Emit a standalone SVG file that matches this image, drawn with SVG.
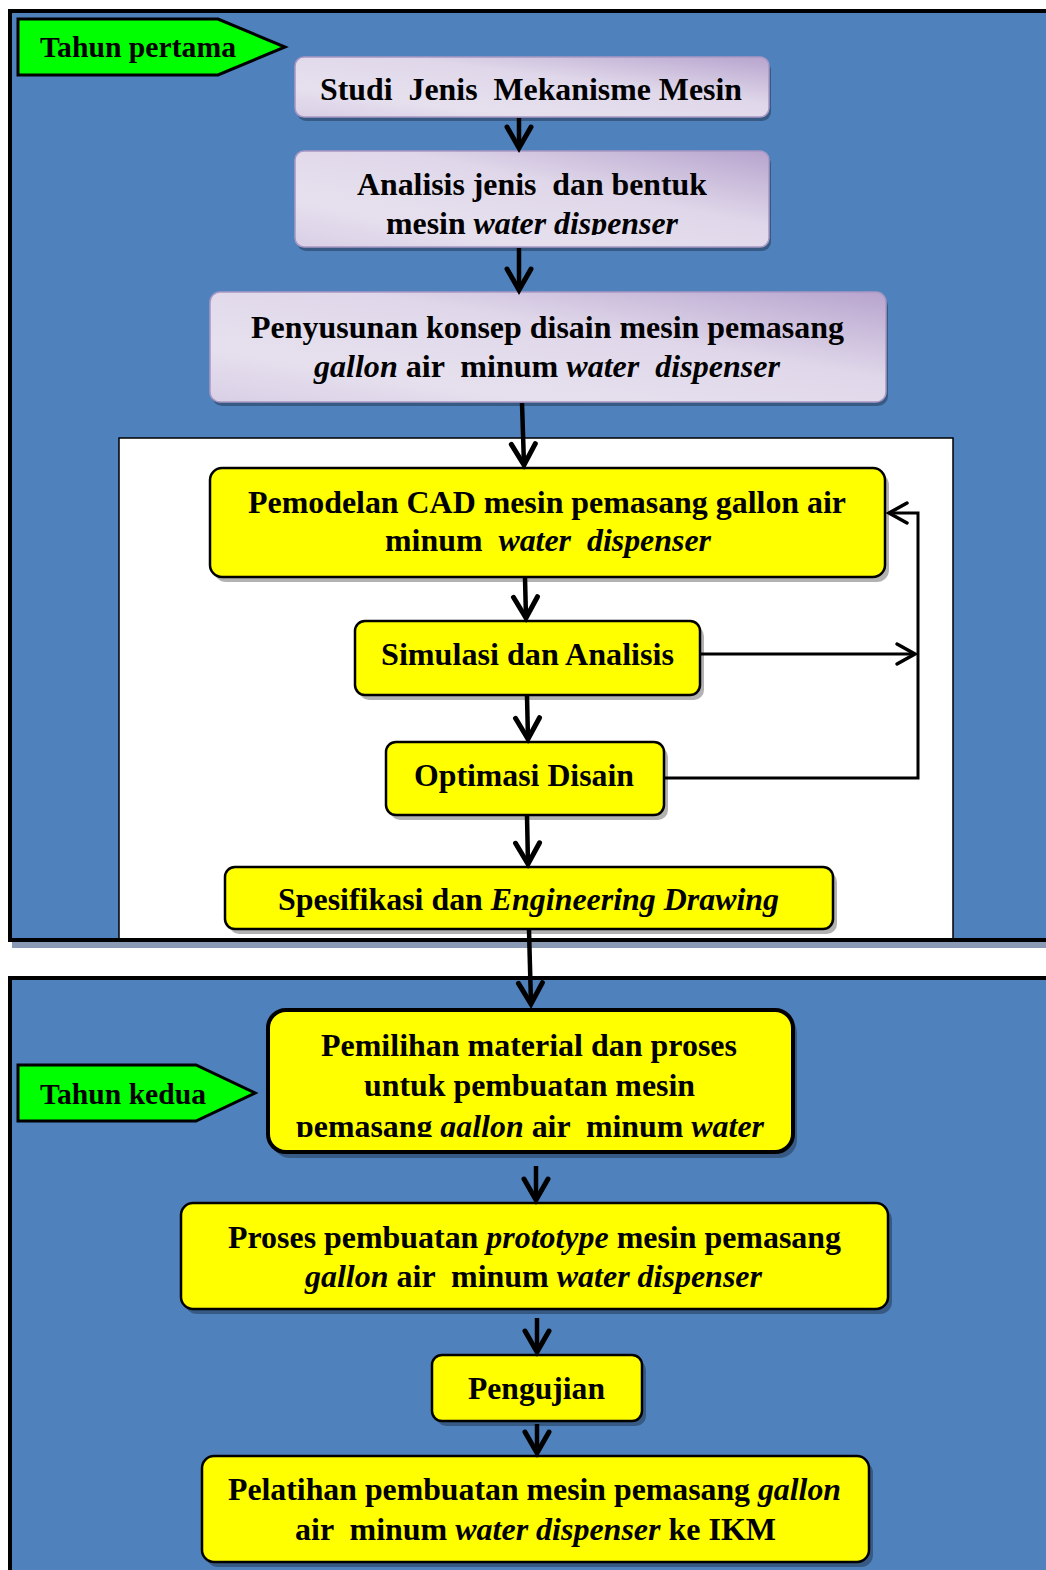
<svg xmlns="http://www.w3.org/2000/svg" width="1046" height="1570" viewBox="0 0 1046 1570">
<style>
.t{font-family:"Liberation Serif","Times New Roman",serif;font-weight:bold;font-size:31px;fill:#000}
.lab{font-size:29px}
.i{font-style:italic}
.lav{fill:url(#lavg);stroke:#A898C4;stroke-width:1.5}
.yel{fill:#FFFF00;stroke:#000;stroke-width:2.5}
.shd{fill:#000;fill-opacity:0.3}
.grn{fill:#00FF00;stroke:#000;stroke-width:3}
.ar{stroke:#000;stroke-width:4.5;fill:none;marker-end:url(#ah)}
.fb{stroke:#000;stroke-width:3;fill:none}
</style>
<defs>
<linearGradient id="lavg" x1="0" y1="1" x2="1" y2="0">
<stop offset="0" stop-color="#D9CFE6"/>
<stop offset="0.25" stop-color="#E6E0EE"/>
<stop offset="0.6" stop-color="#E0D8EA"/>
<stop offset="1" stop-color="#B7A4CE"/>
</linearGradient>
<marker id="ah" markerUnits="userSpaceOnUse" markerWidth="40" markerHeight="40" refX="0" refY="0" orient="auto" overflow="visible">
<path d="M-21,-12 L0,0 L-21,12" fill="none" stroke="#000" stroke-width="5" stroke-linecap="round" stroke-linejoin="miter"/>
</marker>
<marker id="ah2" markerUnits="userSpaceOnUse" markerWidth="30" markerHeight="30" refX="0" refY="0" orient="auto" overflow="visible">
<path d="M-18,-10 L0,0 L-18,10" fill="none" stroke="#000" stroke-width="3.5" stroke-linecap="round"/>
</marker>
<clipPath id="c1"><rect x="295" y="150" width="475" height="85"/></clipPath>
<clipPath id="c2"><rect x="267" y="1009" width="525" height="128"/></clipPath>
</defs>

<rect x="0" y="0" width="1046" height="1570" fill="#FFFFFF"/>

<g id="panel-year1">
<rect x="12" y="14" width="1050" height="934" fill="#8A9AB4"/>
<rect x="10" y="11" width="1050" height="929" fill="#4F81BD" stroke="#000" stroke-width="4"/>
<rect x="119" y="438" width="834" height="502" fill="#FFFFFF" stroke="#000" stroke-width="1.5"/>
<line x1="8" y1="940" x2="1046" y2="940" stroke="#000" stroke-width="4"/>
</g>
<g id="panel-year2">
<rect x="10" y="978" width="1050" height="600" fill="#4F81BD" stroke="#000" stroke-width="4"/>
</g>

<g id="label-tahun-pertama">
<polygon class="grn" points="18,19 218,19 285,47 218,75 18,75"/>
<text class="t lab" x="40" y="57" textLength="196" lengthAdjust="spacingAndGlyphs">Tahun pertama</text>
</g>

<g id="n1">
<rect class="shd" x="297" y="61" width="474" height="60" rx="9"/>
<rect class="lav" x="295" y="57" width="474" height="60" rx="9"/>
<text class="t" x="320" y="100" textLength="422" lengthAdjust="spacingAndGlyphs" xml:space="preserve">Studi  Jenis  Mekanisme Mesin</text>
</g>

<g id="n2">
<rect class="shd" x="297" y="155" width="474" height="96" rx="9"/>
<rect class="lav" x="295" y="151" width="474" height="96" rx="9"/>
<text class="t" x="357" y="195" textLength="350" lengthAdjust="spacingAndGlyphs" xml:space="preserve">Analisis jenis  dan bentuk</text>
<g clip-path="url(#c1)">
<text class="t" x="386" y="234" textLength="292" lengthAdjust="spacingAndGlyphs">mesin <tspan class="i">water dispenser</tspan></text>
</g>
</g>

<g id="n3">
<rect class="shd" x="212" y="296" width="676" height="110" rx="10"/>
<rect class="lav" x="210" y="292" width="676" height="110" rx="10"/>
<text class="t" x="251" y="338" textLength="593" lengthAdjust="spacingAndGlyphs">Penyusunan konsep disain mesin pemasang</text>
<text class="t" x="314" y="377" textLength="466" lengthAdjust="spacingAndGlyphs" xml:space="preserve"><tspan class="i">gallon</tspan> air  minum <tspan class="i">water  dispenser</tspan></text>
</g>

<g id="n4">
<rect class="shd" x="214" y="473" width="675" height="109" rx="12"/>
<rect class="yel" x="210" y="468" width="675" height="109" rx="12"/>
<text class="t" x="248" y="513" textLength="598" lengthAdjust="spacingAndGlyphs">Pemodelan CAD mesin pemasang gallon air</text>
<text class="t" x="385" y="551" textLength="326" lengthAdjust="spacingAndGlyphs" xml:space="preserve">minum  <tspan class="i">water  dispenser</tspan></text>
</g>

<g id="n5">
<rect class="shd" x="359" y="626" width="345" height="74" rx="10"/>
<rect class="yel" x="355" y="621" width="345" height="74" rx="10"/>
<text class="t" x="381" y="665" textLength="293" lengthAdjust="spacingAndGlyphs">Simulasi dan Analisis</text>
</g>

<g id="n6">
<rect class="shd" x="390" y="747" width="278" height="73" rx="10"/>
<rect class="yel" x="386" y="742" width="278" height="73" rx="10"/>
<text class="t" x="414" y="786" textLength="220" lengthAdjust="spacingAndGlyphs">Optimasi Disain</text>
</g>

<g id="n7">
<rect class="shd" x="229" y="872" width="608" height="62" rx="10"/>
<rect class="yel" x="225" y="867" width="608" height="62" rx="10"/>
<text class="t" x="278" y="910" textLength="501" lengthAdjust="spacingAndGlyphs">Spesifikasi dan <tspan class="i">Engineering Drawing</tspan></text>
</g>

<g id="label-tahun-kedua">
<polygon class="grn" points="18,1065 196,1065 255,1093 196,1121 18,1121"/>
<text class="t lab" x="40" y="1104" textLength="166" lengthAdjust="spacingAndGlyphs">Tahun kedua</text>
</g>

<g id="n8">
<rect class="shd" x="272" y="1015" width="525" height="143" rx="18"/>
<rect x="268" y="1010" width="525" height="142" rx="18" fill="#FFFF00" stroke="#000" stroke-width="4"/>
<text class="t" x="321" y="1056" textLength="416" lengthAdjust="spacingAndGlyphs">Pemilihan material dan proses</text>
<text class="t" x="364" y="1096" textLength="331" lengthAdjust="spacingAndGlyphs">untuk pembuatan mesin</text>
<g clip-path="url(#c2)">
<text class="t" x="296" y="1137" textLength="468" lengthAdjust="spacingAndGlyphs" xml:space="preserve">pemasang <tspan class="i">gallon</tspan> air  minum <tspan class="i">water</tspan></text>
</g>
</g>

<g id="n9">
<rect class="shd" x="185" y="1208" width="707" height="106" rx="12"/>
<rect class="yel" x="181" y="1203" width="707" height="106" rx="12"/>
<text class="t" x="228" y="1248" textLength="613" lengthAdjust="spacingAndGlyphs">Proses pembuatan <tspan class="i">prototype</tspan> mesin pemasang</text>
<text class="t" x="305" y="1287" textLength="457" lengthAdjust="spacingAndGlyphs" xml:space="preserve"><tspan class="i">gallon</tspan> air  minum <tspan class="i">water dispenser</tspan></text>
</g>

<g id="n10">
<rect class="shd" x="436" y="1360" width="210" height="66" rx="10"/>
<rect class="yel" x="432" y="1355" width="210" height="66" rx="10"/>
<text class="t" x="468" y="1399" textLength="137" lengthAdjust="spacingAndGlyphs">Pengujian</text>
</g>

<g id="n11">
<rect class="shd" x="206" y="1461" width="667" height="106" rx="12"/>
<rect class="yel" x="202" y="1456" width="667" height="106" rx="12"/>
<text class="t" x="228" y="1500" textLength="613" lengthAdjust="spacingAndGlyphs">Pelatihan pembuatan mesin pemasang <tspan class="i">gallon</tspan></text>
<text class="t" x="295" y="1540" textLength="481" lengthAdjust="spacingAndGlyphs" xml:space="preserve">air  minum <tspan class="i">water dispenser</tspan> ke IKM</text>
</g>

<g id="connectors">
<line class="ar" x1="519" y1="118" x2="519" y2="148"/>
<line class="ar" x1="519" y1="248" x2="519" y2="290"/>
<line class="ar" x1="522" y1="403" x2="524" y2="465"/>
<line class="ar" x1="525" y1="578" x2="526" y2="618"/>
<line class="ar" x1="527" y1="696" x2="528" y2="739"/>
<line class="ar" x1="527" y1="816" x2="528" y2="864"/>
<line class="ar" x1="529" y1="930" x2="531" y2="1004"/>
<line class="ar" x1="536" y1="1166" x2="536" y2="1200"/>
<line class="ar" x1="537" y1="1318" x2="537" y2="1352"/>
<line class="ar" x1="537" y1="1424" x2="537" y2="1453"/>
<line class="fb" x1="700" y1="654" x2="915" y2="654" marker-end="url(#ah2)"/>
<polyline class="fb" points="664,778 918,778 918,513 889,513" marker-end="url(#ah2)"/>
</g>
</svg>
